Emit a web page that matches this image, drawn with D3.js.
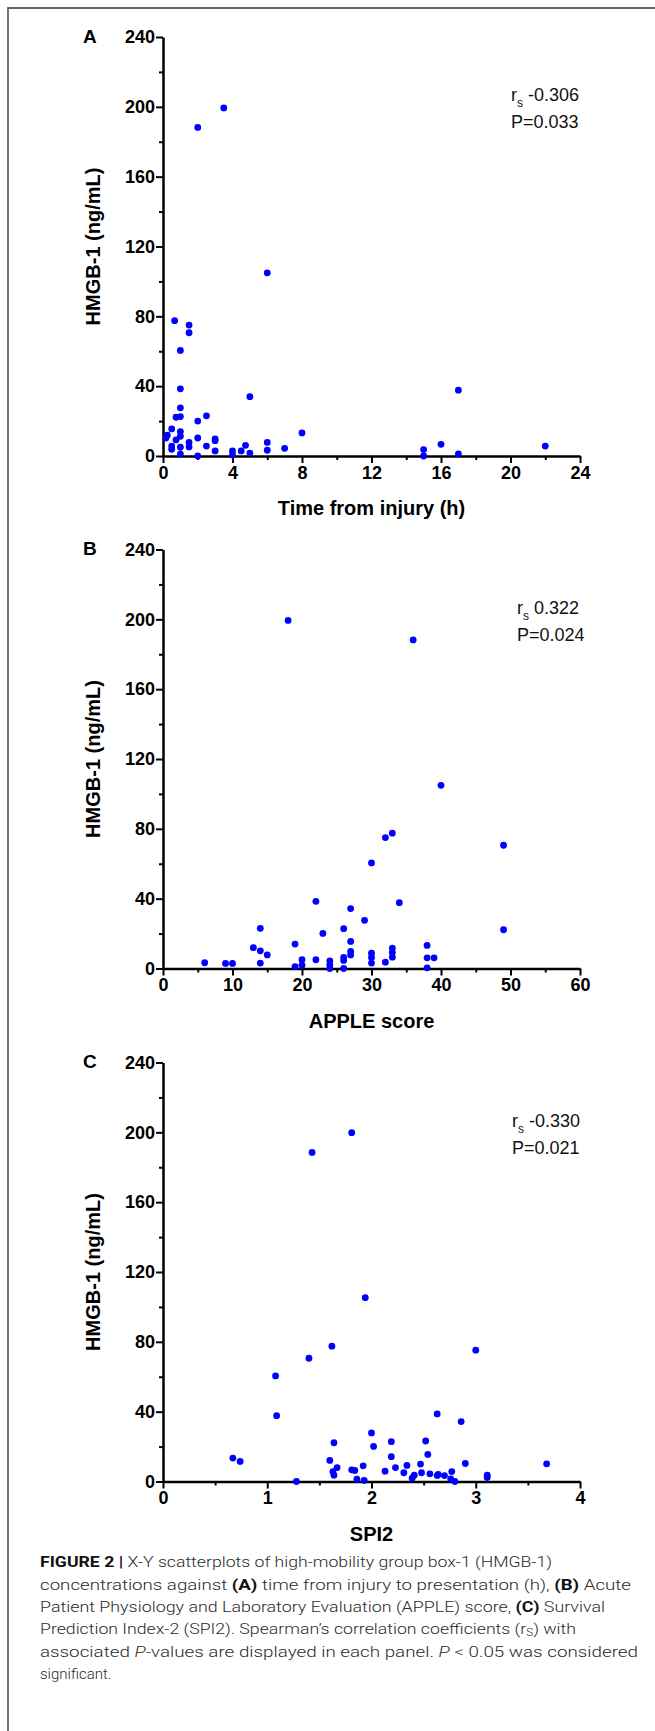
<!DOCTYPE html>
<html>
<head>
<meta charset="utf-8">
<script src="https://cdn.jsdelivr.net/npm/d3@7"></script>
<style>
  body { margin: 0; background: #fff; }
  svg { display: block; font-family: "Liberation Sans", Arial, sans-serif; }
  .axis .domain { stroke: #000; stroke-width: 2.5; }
  .axis line { stroke: #000; stroke-width: 2; }
  .axis text { font-size: 18px; font-weight: bold; fill: #000; font-family: "Liberation Sans", Arial, sans-serif; }
</style>
</head>
<body>
<div id="chart"></div>
<script>
// Panel A: time from injury (h) vs HMGB-1 (ng/mL)
const timeA = [0.67, 1.5, 1.5, 1, 1, 5, 1, 0.75, 1, 2, 2.5, 0.5, 1, 0.25, 0.17, 1, 0.75, 1.5, 1.5, 1,
  0.5, 0.5, 1, 2, 2, 2.5, 3, 3, 3, 4, 4, 4.5, 4.75, 5, 6, 6, 7, 8, 2, 3.5, 6, 17, 15, 15, 16, 17, 22];
const hmgbA = [77.5, 75, 70.6, 60.5, 38.5, 34, 27.6, 22.2, 22.6, 20, 23, 15.5, 14, 11.9, 10.3, 11.3, 9.2, 7.8, 5.2, 5,
  5.7, 3.8, 1.1, 10.3, 0, 5.7, 9.8, 8.8, 2.9, 2.9, 0.6, 2.9, 6.1, 1.7, 7.8, 3.3, 4.4, 13.2, 188.2, 199.4, 104.9, 37.7, 3.7, 0, 6.7, 1.2, 5.7];

// Panel B: APPLE score vs HMGB-1
const appleB = [6, 9, 10, 13, 14, 14, 14, 15, 19, 19, 20, 20, 22, 22, 23, 24, 24, 24, 26, 26, 26, 26, 27, 27, 27, 27,
  29, 30, 30, 30, 30, 32, 32, 33, 34, 49, 49, 33, 33, 33, 38, 38, 39, 38, 18, 36, 40];
const hmgbB = [3.3, 2.9, 2.9, 11.9, 23, 10.1, 3.1, 7.8, 14, 1.1, 5, 1.9, 38.5, 5, 20.1, 4.4, 2.1, 0, 22.8, 6.3, 4.6, 0, 34.3, 15.5, 9.8, 7.8,
  27.6, 60.5, 8.8, 6.3, 3.1, 75, 3.6, 77.5, 37.7, 70.6, 22.2, 11.7, 9.2, 6.5, 13.2, 6.1, 6.1, 0.4, 199.4, 188.2, 104.9];

// Panel C: SPI2 vs HMGB-1
const spiC = [1.81, 1.43, 1.94, 1.62, 1.40, 3.0, 1.08, 1.09, 2.63, 2.86, 0.67, 0.74, 1.28, 1.64, 1.60, 1.63, 1.64, 1.67,
  2.0, 2.02, 2.19, 2.19, 2.52, 2.54, 1.81, 1.84, 1.86, 1.92, 1.93, 2.13, 2.23, 2.31, 2.34, 2.39, 2.41, 2.47, 2.48,
  2.56, 2.63, 2.64, 2.70, 2.77, 2.76, 2.80, 2.90, 3.11, 3.11, 3.68];
const hmgbC = [199.8, 188.5, 105.3, 77.5, 70.6, 75.2, 60.5, 37.7, 38.7, 34.3, 13.4, 11.5, 0, 22.2, 12.1, 5.6, 3.6, 8,
  27.8, 20.1, 22.8, 14.2, 23.2, 15.5, 6.7, 6.3, 1.3, 9, 0.6, 5.9, 8, 5, 9.2, 1.9, 3.6, 10, 5,
  4.4, 3.4, 4, 3.4, 5.7, 1.5, 0, 10.3, 3.6, 2.3, 10.1];

const yTicks = [0, 40, 80, 120, 160, 200, 240];
const yMinorTicks = [20, 60, 100, 140, 180, 220];

const panels = [
  { label: 'A', xs: timeA, ys: hmgbA, xMax: 24, xStep: 4, title: 'Time from injury (h)', rs: '-0.306', p: '0.033', top: 37, noteX: 511 },
  { label: 'B', xs: appleB, ys: hmgbB, xMax: 60, xStep: 10, title: 'APPLE score', rs: '0.322', p: '0.024', top: 549.5, noteX: 517 },
  { label: 'C', xs: spiC, ys: hmgbC, xMax: 4, xStep: 1, title: 'SPI2', rs: '-0.330', p: '0.021', top: 1062.5, noteX: 512 },
];

const width = 655, height = 1731;
const plotH = 419;
const left = 163, right = 580;

const svg = d3.select('#chart').append('svg')
  .attr('width', width).attr('height', height);

// figure frame (top and left rule)
svg.append('path')
  .attr('d', `M8,${height} V8 H${width}`)
  .attr('fill', 'none').attr('stroke', '#666').attr('stroke-width', 1.8);

panels.forEach((p) => {
  const g = svg.append('g');
  const bottom = p.top + plotH;
  const x = d3.scaleLinear().domain([0, p.xMax]).range([left, right]);
  const y = d3.scaleLinear().domain([0, 240]).range([bottom, p.top]);

  const majorX = d3.range(0, p.xMax + p.xStep / 2, p.xStep);
  const minorX = d3.range(p.xStep / 2, p.xMax, p.xStep);

  // minor ticks first, no labels
  g.append('g').attr('class', 'axis')
    .attr('transform', `translate(0,${bottom})`)
    .call(d3.axisBottom(x).tickValues(minorX).tickSize(4).tickSizeOuter(0).tickFormat(''))
    .select('.domain').remove();
  g.append('g').attr('class', 'axis')
    .attr('transform', `translate(${left},0)`)
    .call(d3.axisLeft(y).tickValues(yMinorTicks).tickSize(4).tickSizeOuter(0).tickFormat(''))
    .select('.domain').remove();

  // major ticks with labels
  g.append('g').attr('class', 'axis')
    .attr('transform', `translate(0,${bottom})`)
    .call(d3.axisBottom(x).tickValues(majorX).tickSize(7).tickSizeOuter(0).tickPadding(3).tickFormat(d3.format('d')));
  g.append('g').attr('class', 'axis')
    .attr('transform', `translate(${left},0)`)
    .call(d3.axisLeft(y).tickValues(yTicks).tickSize(7).tickSizeOuter(0).tickPadding(1).tickFormat(d3.format('d')));

  // panel letter
  g.append('text')
    .attr('x', 83).attr('y', p.top + 5.5)
    .attr('font-size', 19).attr('font-weight', 'bold')
    .text(p.label);

  // axis titles
  g.append('text')
    .attr('x', (left + right) / 2).attr('y', bottom + 59)
    .attr('text-anchor', 'middle')
    .attr('font-size', 20).attr('font-weight', 'bold')
    .text(p.title);
  g.append('text')
    .attr('transform', `translate(100,${(p.top + bottom) / 2}) rotate(-90)`)
    .attr('text-anchor', 'middle')
    .attr('font-size', 20).attr('font-weight', 'bold')
    .text('HMGB-1 (ng/mL)');

  // dots
  g.append('g').selectAll('circle')
    .data(p.xs.map((d, i) => [d, p.ys[i]]))
    .join('circle')
    .attr('cx', (d) => x(d[0]))
    .attr('cy', (d) => y(d[1]))
    .attr('r', 3.4)
    .attr('fill', '#0000ff');

  // spearman note
  const note = g.append('text')
    .attr('x', p.noteX).attr('y', p.top + 64)
    .attr('font-size', 18).attr('fill', '#111');
  note.append('tspan').text('r');
  note.append('tspan').attr('font-size', 12).attr('dy', 6).text('s');
  note.append('tspan').attr('dy', -6).text(' ' + p.rs);
  g.append('text')
    .attr('x', p.noteX).attr('y', p.top + 91)
    .attr('font-size', 18).attr('fill', '#111')
    .text('P=' + p.p);
});

// caption
const captionLines = [
  { w: 512, parts: [['FIGURE 2 | ', 'b'], ['X-Y scatterplots of high-mobility group box-1 (HMGB-1)', '']] },
  { w: 591, parts: [['concentrations against ', ''], ['(A)', 'b'], [' time from injury to presentation (h), ', ''], ['(B)', 'b'], [' Acute', '']] },
  { w: 565, parts: [['Patient Physiology and Laboratory Evaluation (APPLE) score, ', ''], ['(C)', 'b'], [' Survival', '']] },
  { w: 536, parts: [['Prediction Index-2 (SPI2). Spearman\u2019s correlation coefficients (r', ''], ['S', 'sub'], [') with', 'up']] },
  { w: 598, parts: [['associated ', ''], ['P', 'i'], ['-values are displayed in each panel. ', ''], ['P', 'i'], [' < 0.05 was considered', '']] },
  { w: 0, parts: [['significant.', '']] },
];
const capY = [1567, 1589.5, 1612, 1634, 1656.5, 1678.5];

captionLines.forEach((line, i) => {
  const t = svg.append('text')
    .attr('x', 40).attr('y', capY[i])
    .attr('font-family', 'Roboto, "Liberation Sans", sans-serif')
    .attr('font-size', 15).attr('font-weight', 300).attr('fill', '#2a2a2a');
  if (line.w) t.attr('textLength', line.w).attr('lengthAdjust', 'spacingAndGlyphs');
  line.parts.forEach(([s, st]) => {
    const ts = t.append('tspan').text(s);
    if (st === 'b') ts.attr('font-weight', 'bold').attr('fill', '#111');
    if (st === 'i') ts.attr('font-style', 'italic');
    if (st === 'sub') ts.attr('font-size', 10).attr('dy', 2);
    if (st === 'up') ts.attr('dy', -2);
  });
});
</script>
</body>
</html>
